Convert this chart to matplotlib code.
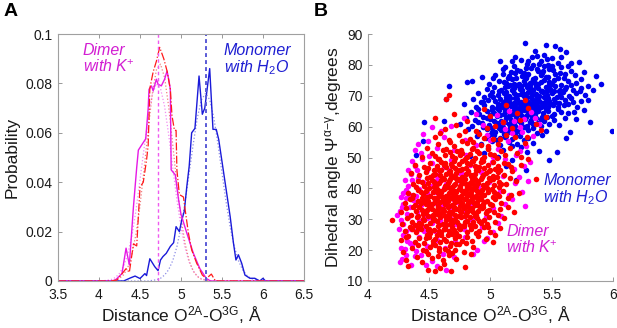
import matplotlib
matplotlib.use("Agg")
import matplotlib.pyplot as plt
import numpy as np

plt.rcParams['font.family'] = ['Liberation Sans', 'DejaVu Sans']
plt.rcParams['mathtext.fontset'] = 'custom'
plt.rcParams['mathtext.rm'] = 'Liberation Sans'
plt.rcParams['mathtext.it'] = 'Liberation Sans:italic'

# ---- panel A: distance histograms ----
dimer1_x = [3.5, 4.15, 4.20, 4.28, 4.33, 4.37, 4.42, 4.46, 4.48, 4.57, 4.60, 4.61, 4.64, 4.66,
            4.70, 4.72, 4.76, 4.80, 4.83, 4.85, 4.87, 4.88, 4.93, 4.97, 5.00, 5.07, 5.15,
            5.23, 5.31, 5.36, 6.5]
dimer1_p = [0, 0, 0.0004, 0.003, 0.0133, 0.0065, 0.030, 0.046, 0.053, 0.0576, 0.070, 0.0776,
            0.079, 0.077, 0.0817, 0.0797, 0.079, 0.0817, 0.085, 0.0817, 0.0776, 0.045, 0.043,
            0.033, 0.027, 0.0195, 0.0113, 0.005, 0.001, 0, 0]

dimer2_x = [3.5, 4.15, 4.22, 4.33, 4.37, 4.42, 4.46, 4.50, 4.54, 4.58, 4.60, 4.62, 4.66, 4.70,
            4.74, 4.79, 4.83, 4.87, 4.89, 4.92, 4.94, 4.95, 4.98, 5.03, 5.05, 5.09, 5.13, 5.19,
            5.26, 5.31, 5.37, 5.42, 6.5]
dimer2_p = [0, 0, 0.0004, 0.005, 0.0035, 0.015, 0.0142, 0.038, 0.040, 0.049, 0.055, 0.078,
            0.0846, 0.089, 0.0946, 0.090, 0.085, 0.0776, 0.067, 0.061, 0.061, 0.045, 0.035,
            0.034, 0.029, 0.0195, 0.0126, 0.0073, 0.0024, 0.001, 0.0028, 0, 0]

mono_x = [3.5, 4.25, 4.30, 4.38, 4.44, 4.50, 4.56, 4.58, 4.62, 4.68, 4.72, 4.75, 4.78, 4.82,
          4.87, 4.91, 4.94, 4.98, 5.01, 5.04, 5.07, 5.10, 5.13, 5.17, 5.22, 5.26, 5.29, 5.35,
          5.39, 5.43, 5.46, 5.60, 5.64, 5.67, 5.70, 5.74, 5.78, 5.84, 5.90, 5.96, 6.00, 6.03, 6.5]
mono_p = [0, 0, 0, 0.0012, 0.002, 0.001, 0.003, 0.0022, 0.009, 0.0058, 0.0042, 0.0085, 0.0099,
          0.0112, 0.014, 0.0155, 0.022, 0.020, 0.0248, 0.0282, 0.038, 0.0465, 0.060, 0.0618,
          0.083, 0.0675, 0.070, 0.086, 0.0614, 0.0614, 0.0573, 0.026, 0.0153, 0.0085, 0.0106,
          0.0072, 0.0024, 0.0011, 0.0011, 0, 0.0011, 0, 0]

# dotted fitted curves
fitA_x = [3.5, 4.0, 4.05, 4.1, 4.15, 4.2, 4.25, 4.3, 4.35, 4.4, 4.45, 4.5, 4.55, 4.6, 4.65, 4.7,
          4.75, 4.8, 4.85, 4.9, 4.95, 5.0, 5.05, 5.1, 5.15, 5.2, 5.25, 5.3, 5.35, 5.4, 6.5]
fit_dimer1 = [0, 0, 0.0001, 0.0003, 0.0006, 0.0014, 0.0031, 0.0060, 0.0108, 0.0181, 0.0283,
              0.0410, 0.0538, 0.0660, 0.0754, 0.0799, 0.0780, 0.0707, 0.0592, 0.0458, 0.0328,
              0.0218, 0.0134, 0.0076, 0.0040, 0.0019, 0.0009, 0.0004, 0.0001, 0, 0]
fit_dimer2 = [0, 0, 0, 0, 0.0001, 0.0004, 0.0011, 0.0025, 0.0054, 0.0105, 0.0188, 0.0305,
              0.0453, 0.0614, 0.0758, 0.0855, 0.0878, 0.0824, 0.0705, 0.0550, 0.0391, 0.0254,
              0.0151, 0.0081, 0.0040, 0.0018, 0.0007, 0.0003, 0.0001, 0, 0]
fitB_x = [3.5, 4.6, 4.7, 4.75, 4.8, 4.85, 4.9, 4.95, 5.0, 5.05, 5.1, 5.15, 5.2, 5.25, 5.3, 5.35,
          5.4, 5.45, 5.5, 5.55, 5.6, 5.65, 5.7, 5.75, 5.8, 5.85, 5.9, 5.95, 6.0, 6.1, 6.5]
fit_mono = [0, 0, 0.0005, 0.0011, 0.0024, 0.0046, 0.0083, 0.0139, 0.0218, 0.0320, 0.0437,
            0.0556, 0.0662, 0.0734, 0.0760, 0.0734, 0.0662, 0.0556, 0.0437, 0.0320, 0.0218,
            0.0139, 0.0083, 0.0046, 0.0024, 0.0011, 0.0005, 0.0002, 0.0001, 0, 0]

mean_dimer = 4.72
mean_mono = 5.30

# ---- panel B: distance vs dihedral angle ----
mono_pts = [
    (5.28, 87.2), (5.45, 86.3), (5.53, 86.1), (5.57, 85.2),
    (5.62, 84.3), (5.44, 83.1), (5.20, 82.4), (5.36, 84.6), (5.72, 80.9), (5.50, 82.2),
    (5.08, 81.2), (5.18, 81.4), (5.30, 80.3), (5.41, 81.1), (5.55, 80.6), (5.63, 79.8),
    (5.25, 81.7), (5.47, 80.1), (5.34, 82.5),
    (5.12, 79.4), (5.22, 78.2), (5.29, 79.1), (5.38, 78.6), (5.44, 79.5), (5.51, 78.3),
    (5.58, 79.2), (5.66, 78.1), (5.33, 78.9), (5.17, 77.8), (5.48, 78.8), (5.76, 77.6),
    (5.40, 80.2),
    (4.93, 76.1), (5.04, 76.8), (5.14, 75.9), (5.20, 77.3), (5.26, 76.4), (5.31, 77.1),
    (5.36, 75.8), (5.42, 77.4), (5.47, 76.2), (5.53, 76.9), (5.60, 75.7), (5.69, 76.6),
    (5.86, 76.4), (5.24, 77.9), (5.39, 78.0), (5.57, 77.5), (5.10, 77.0),
    (4.81, 74.6), (4.85, 74.7), (4.99, 73.8), (5.07, 74.9), (5.13, 74.2), (5.18, 75.3),
    (5.23, 73.9), (5.27, 74.8), (5.32, 74.1), (5.35, 75.4), (5.39, 73.7), (5.44, 75.0),
    (5.48, 74.3), (5.52, 75.2), (5.58, 73.6), (5.63, 74.7), (5.70, 74.0), (5.80, 73.3),
    (5.29, 75.9), (5.45, 76.0), (5.15, 76.3),
    (4.66, 73.3), (4.97, 72.2), (5.03, 72.9), (5.09, 71.8), (5.14, 73.1), (5.19, 72.4),
    (5.22, 73.4), (5.26, 71.9), (5.30, 72.8), (5.33, 72.1), (5.37, 73.2), (5.41, 71.7),
    (5.45, 72.9), (5.49, 72.3), (5.53, 73.0), (5.57, 71.9), (5.62, 72.7), (5.67, 72.0),
    (5.74, 72.6), (5.28, 73.7), (5.36, 74.0), (5.46, 71.6), (5.24, 72.5), (5.12, 72.7),
    (4.64, 69.0), (4.90, 70.8), (4.95, 69.7), (5.01, 71.2), (5.06, 70.3), (5.11, 70.9),
    (5.15, 69.8), (5.19, 71.0), (5.22, 70.1), (5.25, 70.7), (5.28, 69.6), (5.31, 71.3),
    (5.34, 70.2), (5.37, 70.6), (5.40, 69.9), (5.43, 71.1), (5.46, 70.4), (5.50, 70.8),
    (5.54, 69.7), (5.59, 71.2), (5.64, 70.0), (5.70, 70.9), (5.77, 70.2), (5.33, 71.6),
    (5.42, 71.7), (5.18, 71.8), (5.56, 71.5),
    (4.86, 68.8), (4.92, 67.9), (4.98, 68.6), (5.04, 68.2), (5.08, 69.1), (5.12, 68.3),
    (5.16, 69.2), (5.19, 67.8), (5.22, 68.9), (5.25, 68.1), (5.28, 68.7), (5.31, 67.9),
    (5.34, 68.8), (5.36, 68.2), (5.39, 69.3), (5.42, 67.7), (5.45, 68.9), (5.48, 68.4),
    (5.52, 69.0), (5.56, 67.8), (5.61, 68.6), (5.67, 68.1), (5.80, 68.7), (5.30, 69.7),
    (5.38, 69.5), (5.21, 69.6), (5.47, 69.4), (5.13, 69.5),
    (4.78, 67.2), (4.88, 66.3), (4.95, 67.1), (5.01, 66.4), (5.06, 67.3), (5.10, 66.2),
    (5.14, 67.0), (5.17, 66.6), (5.20, 67.4), (5.23, 66.1), (5.26, 66.9), (5.29, 66.5),
    (5.32, 67.2), (5.35, 66.3), (5.38, 67.1), (5.41, 66.4), (5.44, 67.3), (5.47, 66.2),
    (5.51, 66.9), (5.55, 66.5), (5.60, 67.0), (5.71, 66.4), (5.27, 67.6), (5.35, 67.8),
    (5.43, 67.7), (5.16, 67.5), (5.52, 67.6), (5.08, 66.9),
    (4.84, 64.8), (4.91, 64.1), (4.97, 65.2), (5.03, 64.3), (5.07, 65.4), (5.11, 64.0),
    (5.15, 64.9), (5.18, 64.2), (5.21, 65.1), (5.24, 64.4), (5.27, 65.3), (5.30, 63.9),
    (5.33, 64.7), (5.36, 64.2), (5.39, 65.0), (5.43, 64.5), (5.47, 65.2), (5.52, 64.1),
    (5.58, 64.9), (5.63, 64.3), (5.25, 65.8), (5.32, 65.7), (5.40, 65.9), (5.13, 65.6),
    (5.01, 65.5),
    (4.80, 62.8), (4.87, 62.2), (4.94, 63.1), (5.00, 62.4), (5.05, 63.3), (5.09, 61.9),
    (5.13, 62.7), (5.17, 62.1), (5.21, 63.2), (5.25, 62.3), (5.29, 63.0), (5.33, 62.0),
    (5.37, 62.9), (5.41, 62.4), (5.46, 63.1), (5.52, 62.2), (5.61, 62.7), (5.22, 63.8),
    (5.35, 63.6), (5.08, 63.7), (4.62, 61.8),
    (4.46, 61.4), (4.75, 60.9), (4.85, 60.2), (4.93, 61.1), (4.99, 60.4), (5.05, 61.3),
    (5.10, 59.9), (5.15, 60.8), (5.20, 60.3), (5.25, 61.2), (5.30, 60.1), (5.35, 60.9),
    (5.41, 60.3), (5.48, 61.0), (5.81, 61.4), (5.19, 61.6), (5.03, 61.7),
    (4.82, 59.2), (4.90, 58.3), (4.97, 59.1), (5.04, 58.4), (5.09, 58.9), (5.14, 58.1),
    (5.19, 59.3), (5.25, 58.2), (5.31, 58.8), (5.38, 58.0), (5.65, 58.3), (5.99, 58.7),
    (5.01, 59.6),
    (4.89, 57.1), (4.96, 56.2), (5.03, 57.3), (5.08, 56.4), (5.13, 57.0), (5.18, 56.1),
    (5.24, 56.9), (5.31, 56.3), (5.42, 57.2), (5.11, 57.7),
    (4.45, 55.5), (4.92, 54.3), (5.01, 55.2), (5.08, 54.1), (5.15, 55.0), (5.22, 54.4),
    (5.35, 54.8),
    (4.98, 53.1), (5.10, 52.4), (5.25, 53.3), (5.40, 52.0), (5.54, 51.7),
    (4.39, 50.7), (4.83, 50.6), (5.06, 50.2), (5.48, 49.3), (5.18, 49.1),
    (5.29, 46.1), (5.21, 42.8), (5.13, 47.2),
    (5.10, 78.6), (5.19, 79.7), (5.27, 77.4), (5.35, 79.9), (5.43, 77.9), (5.50, 79.6),
    (5.61, 77.2), (5.31, 81.3), (5.46, 81.8), (5.38, 83.0), (5.58, 82.6), (5.66, 80.7),
    (5.02, 75.6), (5.11, 74.4), (5.21, 75.7), (5.25, 73.1), (5.34, 74.6), (5.41, 76.7),
    (5.50, 73.7), (5.55, 75.9), (5.66, 73.4), (5.74, 75.5), (5.19, 73.8), (5.30, 76.6),
    (5.00, 70.4), (5.07, 71.6), (5.13, 71.3), (5.20, 69.3), (5.24, 72.1), (5.27, 70.5),
    (5.32, 73.5), (5.35, 71.9), (5.39, 72.5), (5.44, 69.5), (5.48, 73.6), (5.52, 71.4),
    (5.57, 70.3), (5.61, 72.2), (5.66, 69.4), (5.73, 71.6), (5.16, 73.6), (5.41, 74.5),
    (4.94, 68.1), (5.02, 69.5), (5.10, 67.6), (5.14, 68.6), (5.18, 66.9), (5.23, 67.7),
    (5.27, 69.9), (5.30, 67.3), (5.33, 69.6), (5.37, 67.5), (5.40, 68.3), (5.44, 66.8),
    (5.49, 67.3), (5.53, 68.1), (5.58, 69.7), (5.63, 67.4), (5.74, 68.4), (5.06, 66.1),
    (5.46, 68.0),
    (4.90, 65.6), (5.00, 63.8), (5.05, 66.0), (5.12, 65.2), (5.16, 63.7), (5.20, 66.3),
    (5.23, 64.9), (5.26, 63.6), (5.29, 66.0), (5.31, 65.2), (5.34, 63.4), (5.38, 66.2),
    (5.42, 63.2), (5.45, 65.7), (5.50, 63.6), (5.55, 65.8), (5.68, 64.9), (5.19, 65.5),
    (5.36, 65.4),
    (4.90, 61.4), (4.97, 62.8), (5.07, 60.7), (5.12, 61.5), (5.18, 60.6), (5.23, 61.9),
    (5.27, 60.0), (5.32, 61.6), (5.39, 61.3), (5.44, 61.9), (5.56, 60.6), (5.15, 63.3),
    (5.28, 62.6),
    (4.94, 59.9), (5.01, 58.3), (5.07, 59.6), (5.16, 59.7), (5.22, 58.6), (5.28, 59.9),
    (5.35, 59.4), (5.45, 58.7), (5.12, 56.8), (5.20, 57.4), (5.27, 55.6), (5.05, 55.8),
    (4.99, 57.4), (5.18, 53.6), (5.30, 51.8), (4.95, 51.6), (5.62, 56.4), (5.70, 62.4),
    (5.76, 65.3), (5.84, 71.9), (5.90, 73.9),
]

dimerK_a_pts = [
    (4.26, 16.0), (4.28, 17.2), (4.35, 15.3), (4.43, 18.4), (4.52, 16.5), (4.61, 18.9),
    (4.70, 17.8), (4.64, 13.7),
    (4.30, 20.3), (4.34, 22.4), (4.39, 19.6), (4.42, 24.1), (4.48, 21.3), (4.56, 23.2),
    (4.63, 20.8), (4.71, 22.9), (4.79, 24.4), (4.89, 20.2), (4.97, 24.0), (4.29, 24.8),
    (4.36, 21.5),
    (4.25, 27.0), (4.27, 29.8), (4.31, 26.3), (4.33, 30.7), (4.37, 28.1), (4.40, 26.5),
    (4.42, 29.4), (4.45, 27.4), (4.48, 30.3), (4.52, 28.7), (4.55, 26.1), (4.59, 29.6),
    (4.63, 27.3), (4.67, 30.4), (4.72, 28.6), (4.78, 26.7), (4.85, 29.9), (4.93, 27.5),
    (5.06, 28.9), (4.29, 28.5), (4.35, 27.0), (4.50, 25.5), (4.96, 30.6),
    (4.26, 32.6), (4.29, 35.1), (4.32, 31.8), (4.34, 33.9), (4.37, 36.2), (4.40, 32.3),
    (4.43, 34.7), (4.46, 31.4), (4.48, 36.9), (4.51, 33.5), (4.54, 35.3), (4.57, 32.1),
    (4.61, 34.4), (4.65, 36.5), (4.69, 33.1), (4.73, 35.6), (4.78, 32.8), (4.84, 34.8),
    (4.91, 36.4), (5.02, 33.7), (5.12, 35.0), (5.28, 34.3), (4.31, 36.8), (4.39, 35.0),
    (4.29, 38.5), (4.33, 40.8), (4.36, 42.6), (4.39, 37.6), (4.42, 39.9), (4.45, 42.0),
    (4.48, 38.4), (4.52, 40.9), (4.56, 42.8), (4.60, 38.9), (4.64, 41.3), (4.69, 39.8),
    (4.75, 42.3), (4.82, 38.1), (4.90, 40.6), (4.99, 42.0), (5.08, 39.3), (5.20, 41.7),
    (5.31, 42.5), (4.34, 38.0), (5.15, 37.8),
    (4.35, 44.6), (4.38, 47.3), (4.41, 43.4), (4.44, 49.4), (4.48, 45.8), (4.52, 48.1),
    (4.57, 44.2), (4.62, 46.9), (4.68, 49.2), (4.75, 44.9), (4.83, 47.6), (4.92, 45.3),
    (5.01, 48.5), (5.10, 44.0), (5.19, 46.4), (5.27, 47.1), (5.23, 43.8), (4.50, 50.5),
    (4.40, 46.0),
    (4.43, 51.6), (4.49, 55.2), (4.56, 53.1), (4.62, 56.7), (4.70, 52.3), (4.79, 55.8),
    (4.88, 53.9), (4.97, 57.3), (5.06, 52.7), (5.14, 55.4), (5.21, 50.9), (5.29, 53.6),
    (5.35, 56.9), (5.02, 50.2),
    (4.60, 58.6), (4.78, 62.9), (4.94, 60.4), (5.05, 63.7), (5.12, 59.2), (5.19, 61.8),
    (5.26, 58.3), (5.33, 64.6), (5.40, 60.7), (5.15, 65.0), (5.27, 62.5), (4.88, 64.1),
    (4.62, 40.1), (4.70, 36.2), (4.77, 44.7), (4.55, 38.8), (4.66, 31.7), (4.80, 29.4),
    (4.59, 42.3), (4.73, 24.6),
    (4.24, 31.4), (4.28, 34.0), (4.27, 37.2), (4.31, 39.5), (4.30, 42.8), (4.33, 45.9),
    (4.36, 49.0), (4.38, 52.4), (4.41, 54.3), (4.45, 57.5), (4.52, 59.8), (4.68, 60.2),
    (4.32, 22.9), (4.27, 20.7), (4.38, 18.0), (4.31, 18.5), (4.47, 15.1), (4.56, 14.8),
    (5.05, 45.8), (5.12, 49.6), (5.24, 52.1), (5.32, 48.5), (5.18, 58.0), (5.24, 60.0),
    (5.36, 62.9), (5.10, 61.5), (5.00, 55.6), (4.95, 23.0), (5.02, 26.0), (4.86, 18.8),
    (5.09, 31.0), (5.18, 36.6), (5.26, 38.7), (4.58, 35.6), (4.51, 30.6), (4.46, 26.1),
    (4.56, 44.1), (4.66, 45.9), (4.80, 50.9),
]

dimerK_b_pts = [
    (4.49, 13.6), (4.55, 13.1), (4.59, 14.3), (4.68, 13.4), (4.79, 14.4), (4.33, 15.0),
    (4.62, 15.6),
    (4.31, 16.8), (4.40, 17.9), (4.52, 17.6), (4.57, 18.0), (4.61, 16.9), (4.66, 18.4),
    (4.72, 17.2), (4.49, 18.6), (4.84, 18.9), (4.44, 16.3),
    (4.29, 19.4), (4.36, 20.7), (4.41, 21.5), (4.47, 19.8), (4.51, 20.9), (4.55, 21.8),
    (4.58, 19.6), (4.63, 20.4), (4.67, 21.3), (4.71, 20.0), (4.74, 21.9), (4.78, 19.3),
    (4.86, 21.1), (4.53, 22.0), (4.45, 20.2), (4.69, 19.1),
    (4.27, 23.4), (4.33, 24.6), (4.38, 22.5), (4.42, 23.9), (4.46, 22.2), (4.50, 24.3),
    (4.53, 23.0), (4.56, 24.8), (4.59, 22.6), (4.62, 23.7), (4.65, 24.9), (4.68, 22.4),
    (4.71, 23.8), (4.74, 24.5), (4.77, 22.9), (4.81, 24.2), (4.85, 23.1), (4.90, 24.7),
    (4.96, 23.5), (5.04, 24.8), (4.48, 25.0), (4.60, 25.0), (4.72, 22.1), (5.02, 22.6),
    (4.30, 26.1), (4.34, 27.5), (4.39, 25.8), (4.43, 26.9), (4.47, 27.8), (4.51, 25.4),
    (4.54, 26.6), (4.57, 27.9), (4.60, 25.9), (4.63, 27.0), (4.66, 26.2), (4.69, 27.6),
    (4.72, 25.6), (4.75, 26.8), (4.78, 27.7), (4.81, 25.9), (4.84, 26.9), (4.87, 27.9),
    (4.91, 26.3), (4.95, 27.4), (5.00, 26.0), (5.08, 27.2), (4.36, 26.9), (4.49, 26.5),
    (4.58, 26.3), (4.70, 26.4), (4.83, 28.0), (4.64, 28.0), (4.41, 27.2), (4.31, 24.4),
    (4.20, 29.7), (4.28, 28.6), (4.32, 30.4), (4.36, 29.1), (4.40, 30.8), (4.43, 28.4),
    (4.46, 29.6), (4.49, 30.9), (4.51, 28.9), (4.54, 30.2), (4.56, 29.3), (4.59, 30.7),
    (4.61, 28.5), (4.64, 29.8), (4.66, 30.9), (4.69, 28.8), (4.71, 30.1), (4.73, 29.2),
    (4.76, 30.6), (4.78, 28.3), (4.81, 29.5), (4.83, 30.8), (4.86, 29.0), (4.89, 30.3),
    (4.92, 28.7), (4.95, 29.9), (4.99, 30.6), (5.04, 29.2), (5.11, 30.5), (4.38, 28.2),
    (4.52, 31.0), (4.63, 31.0), (4.74, 28.1), (4.87, 31.0), (4.45, 30.1), (4.68, 29.9),
    (4.27, 32.4), (4.31, 33.6), (4.35, 31.5), (4.39, 32.8), (4.42, 33.9), (4.45, 31.7),
    (4.48, 32.9), (4.50, 33.8), (4.53, 31.4), (4.55, 32.6), (4.58, 33.7), (4.60, 31.9),
    (4.62, 32.8), (4.65, 33.9), (4.67, 31.6), (4.69, 32.5), (4.72, 33.4), (4.74, 31.2),
    (4.76, 32.3), (4.78, 33.6), (4.80, 31.8), (4.83, 32.9), (4.85, 33.8), (4.88, 31.5),
    (4.90, 32.7), (4.93, 33.6), (4.96, 31.9), (4.99, 33.0), (5.03, 32.2), (5.08, 33.4),
    (5.19, 32.4), (4.57, 34.0), (4.70, 34.0), (4.82, 34.0), (4.44, 33.1), (4.64, 31.1),
    (4.79, 31.0), (4.94, 34.0), (4.37, 34.0), (4.52, 33.2),
    (4.30, 35.2), (4.34, 36.5), (4.38, 34.6), (4.41, 35.9), (4.44, 36.8), (4.47, 34.8),
    (4.49, 36.0), (4.52, 35.1), (4.54, 36.9), (4.57, 34.4), (4.59, 35.7), (4.61, 36.6),
    (4.63, 34.9), (4.65, 35.8), (4.67, 36.9), (4.69, 34.5), (4.71, 35.5), (4.73, 36.4),
    (4.75, 34.3), (4.77, 35.4), (4.79, 36.7), (4.81, 34.7), (4.83, 35.9), (4.85, 36.8),
    (4.87, 34.6), (4.89, 35.6), (4.92, 36.5), (4.94, 34.9), (4.97, 36.0), (5.00, 35.1),
    (5.04, 36.4), (5.09, 35.3), (5.14, 36.8), (4.56, 37.0), (4.68, 37.0), (4.80, 37.0),
    (4.91, 37.0), (4.46, 35.9), (4.62, 35.9), (4.74, 35.9), (4.86, 35.7), (4.36, 37.0),
    (4.33, 38.6), (4.37, 37.8), (4.41, 39.4), (4.45, 38.1), (4.48, 39.7), (4.51, 37.6),
    (4.53, 38.9), (4.56, 39.8), (4.58, 37.9), (4.60, 38.8), (4.62, 39.9), (4.64, 37.5),
    (4.66, 38.6), (4.68, 39.5), (4.70, 37.7), (4.72, 38.7), (4.74, 39.7), (4.76, 37.4),
    (4.78, 38.5), (4.80, 39.6), (4.82, 37.9), (4.84, 38.9), (4.86, 39.8), (4.88, 37.6),
    (4.90, 38.7), (4.93, 39.6), (4.95, 37.8), (4.98, 38.9), (5.01, 39.9), (5.05, 38.3),
    (5.10, 39.2), (5.17, 38.0), (4.50, 40.0), (4.63, 40.0), (4.75, 40.0), (4.87, 40.0),
    (4.97, 40.0), (4.43, 38.9), (4.57, 38.5), (4.69, 38.4), (4.81, 38.3), (4.92, 38.2),
    (4.37, 41.3), (4.41, 42.5), (4.46, 40.7), (4.49, 41.9), (4.52, 42.8), (4.55, 40.5),
    (4.58, 41.6), (4.60, 42.7), (4.63, 40.8), (4.65, 41.8), (4.67, 42.9), (4.69, 40.4),
    (4.71, 41.5), (4.73, 42.6), (4.75, 40.9), (4.77, 41.9), (4.79, 42.9), (4.81, 40.6),
    (4.83, 41.7), (4.85, 42.8), (4.88, 40.8), (4.90, 41.9), (4.92, 42.9), (4.95, 40.5),
    (4.97, 41.6), (5.00, 42.7), (5.03, 41.0), (5.07, 42.2), (5.13, 41.3), (5.21, 42.4),
    (5.37, 43.1), (4.62, 43.0), (4.74, 43.0), (4.87, 43.0), (4.56, 41.4), (4.86, 41.4),
    (4.44, 42.2), (5.02, 43.0),
    (4.42, 44.2), (4.47, 45.4), (4.51, 43.7), (4.55, 44.8), (4.58, 45.9), (4.61, 43.5),
    (4.64, 44.6), (4.67, 45.7), (4.70, 43.8), (4.72, 44.9), (4.75, 45.8), (4.77, 43.6),
    (4.80, 44.7), (4.82, 45.6), (4.85, 43.9), (4.87, 44.8), (4.90, 45.9), (4.93, 43.7),
    (4.96, 44.9), (4.99, 45.7), (5.02, 44.1), (5.06, 45.3), (5.11, 44.4), (5.18, 45.5),
    (4.35, 45.0), (4.60, 46.0), (4.73, 46.0), (4.88, 46.0), (5.00, 46.0), (4.68, 44.3),
    (4.84, 44.3), (4.53, 44.4),
    (4.38, 47.5), (4.46, 46.8), (4.51, 48.2), (4.56, 47.1), (4.60, 48.6), (4.64, 46.9),
    (4.68, 48.0), (4.71, 46.6), (4.74, 47.8), (4.77, 48.9), (4.80, 46.7), (4.83, 47.9),
    (4.86, 48.8), (4.89, 47.0), (4.92, 48.4), (4.95, 46.5), (4.98, 47.7), (5.02, 48.7),
    (5.06, 47.2), (5.11, 48.3), (5.17, 46.9), (5.25, 47.6), (4.70, 49.0), (4.85, 49.0),
    (4.62, 47.5),
    (4.44, 50.2), (4.52, 51.3), (4.58, 49.6), (4.63, 50.8), (4.67, 51.9), (4.71, 49.8),
    (4.75, 50.9), (4.79, 49.4), (4.83, 51.0), (4.87, 49.9), (4.91, 51.6), (4.95, 50.3),
    (5.00, 51.2), (5.05, 49.7), (5.12, 50.8), (5.22, 51.4), (4.73, 52.0), (4.89, 52.0),
    (4.48, 53.0), (4.57, 54.3), (4.64, 52.6), (4.70, 53.8), (4.76, 52.4), (4.81, 54.6),
    (4.86, 53.2), (4.92, 54.1), (4.98, 52.9), (5.06, 54.4), (5.16, 53.1), (5.28, 54.7),
    (4.55, 56.8), (4.66, 55.6), (4.74, 57.4), (4.83, 56.0), (4.91, 57.7), (5.02, 55.9),
    (5.13, 57.2), (5.30, 56.5),
    (4.63, 59.3), (4.72, 60.6), (4.88, 58.7), (5.04, 60.2), (5.18, 59.5), (5.41, 58.9),
    (4.55, 62.9), (4.81, 61.8), (5.00, 63.4), (5.24, 62.2),
    (4.66, 70.2), (4.64, 68.8), (4.95, 65.6), (5.13, 66.9),
    (5.31, 66.1), (5.22, 64.5), (5.45, 63.2), (5.37, 60.8), (5.28, 68.7),
    (4.47, 24.0), (4.55, 23.6), (4.64, 22.9), (4.69, 25.2), (4.80, 22.4), (4.88, 25.4),
    (4.58, 20.8), (4.65, 19.6),
    (4.42, 28.9), (4.50, 27.0), (4.53, 29.7), (4.58, 28.1), (4.62, 26.8), (4.67, 28.6),
    (4.74, 27.2), (4.79, 29.0), (4.85, 28.3), (4.91, 29.5), (4.97, 28.4), (4.56, 31.8),
    (4.41, 31.2), (4.47, 32.4), (4.51, 34.6), (4.56, 33.0), (4.61, 33.3), (4.66, 32.2),
    (4.70, 33.8), (4.75, 32.8), (4.81, 32.4), (4.86, 32.5), (4.91, 34.2), (4.97, 32.6),
    (5.01, 34.5), (4.71, 31.4),
    (4.43, 35.4), (4.48, 37.3), (4.55, 35.6), (4.60, 37.4), (4.64, 36.2), (4.70, 36.7),
    (4.76, 36.9), (4.82, 35.3), (4.88, 37.3), (4.95, 35.6), (5.02, 37.2), (5.07, 37.5),
    (4.66, 34.3), (4.78, 34.1),
    (4.39, 40.3), (4.47, 39.0), (4.54, 40.5), (4.59, 39.3), (4.65, 40.4), (4.71, 39.1),
    (4.77, 39.2), (4.83, 40.2), (4.89, 39.1), (4.94, 41.2), (5.03, 38.9), (5.07, 40.6),
    (4.61, 37.2), (4.73, 37.3), (4.85, 37.4),
    (4.48, 43.3), (4.54, 42.1), (4.59, 44.3), (4.66, 42.4), (4.70, 41.0), (4.76, 42.3),
    (4.80, 41.3), (4.84, 44.0), (4.89, 42.4), (4.94, 44.2), (4.99, 43.4), (5.05, 43.6),
    (5.09, 41.5), (4.72, 43.4),
    (4.49, 46.6), (4.54, 45.9), (4.63, 48.2), (4.66, 45.4), (4.69, 47.2), (4.77, 46.4),
    (4.81, 48.3), (4.87, 47.4), (4.91, 47.0), (4.94, 48.9), (5.04, 46.2), (5.08, 45.8),
    (5.14, 47.8), (4.57, 49.5),
    (4.55, 50.5), (4.61, 52.5), (4.69, 50.4), (4.77, 51.6), (4.81, 50.2), (4.85, 52.6),
    (4.93, 49.6), (4.98, 53.6), (5.03, 50.7), (5.09, 52.1), (4.67, 54.9), (4.77, 55.4),
    (4.86, 55.1), (4.95, 56.4), (5.08, 56.0), (4.59, 58.0), (4.79, 58.6), (4.97, 59.7),
    (5.10, 61.5), (4.70, 64.0), (5.20, 56.6), (5.25, 50.3), (5.31, 49.4), (5.16, 43.2),
    (5.23, 38.6), (5.14, 33.9), (5.06, 31.4), (4.98, 27.6),
]

C_MAG = '#e619e6'
C_RED = '#ff1a1a'
C_BLUE = '#1a1ad9'
TXT = '#1a1a1a'

fig = plt.figure(figsize=(6.17, 3.28), dpi=100)

# ---------------- panel A ----------------
axA = fig.add_axes([0.094, 0.1433, 0.3987, 0.753])
axA.plot(fitA_x, fit_dimer1, ':', color='#f28cf2', lw=0.9)
axA.plot(fitA_x, fit_dimer2, ':', color='#f08080', lw=0.9)
axA.plot(fitB_x, fit_mono, ':', color='#8c8ce6', lw=0.9)
axA.plot(mono_x, mono_p, '-', color=C_BLUE, lw=1.0)
axA.plot(dimer1_x, dimer1_p, '-', color=C_MAG, lw=1.0)
axA.plot(dimer2_x, dimer2_p, '-.', color=C_RED, lw=0.9)
axA.plot([mean_dimer, mean_dimer], [0, 0.1], '--', color='#f05af0', lw=1.0, dashes=(2.5, 2))
axA.plot([mean_mono, mean_mono], [0, 0.1], '--', color='#5a5ad6', lw=1.4, dashes=(2, 1.6))

axA.set_xlim(3.5, 6.5)
axA.set_ylim(0, 0.1)
axA.set_xticks([3.5, 4, 4.5, 5, 5.5, 6, 6.5])
axA.set_xticklabels(['3.5', '4', '4.5', '5', '5.5', '6', '6.5'])
axA.set_yticks([0, 0.02, 0.04, 0.06, 0.08, 0.1])
axA.set_yticklabels(['0', '0.02', '0.04', '0.06', '0.08', '0.1'])
axA.tick_params(direction='in', length=3, width=0.6, color='#888888', labelsize=10,
                labelcolor=TXT, top=True, right=True)
axA.tick_params(axis='x', pad=5)
axA.tick_params(axis='y', pad=4)
for sp in axA.spines.values():
    sp.set_color('#a0a0a0')
    sp.set_linewidth(0.8)
axA.set_ylabel('Probability', fontsize=12.5, color=TXT, labelpad=4)
axA.set_xlabel('Distance O$^{\\mathregular{2A}}$-O$^{\\mathregular{3G}}$, Å', fontsize=12.5,
               color=TXT, labelpad=2)
axA.text(3.80, 0.0965, 'Dimer\nwith K$^{+}$', color='#d21ed2', fontsize=11.5,
         style='italic', va='top', ha='left', linespacing=1.05)
axA.text(5.52, 0.0965, 'Monomer\nwith H$_{\\mathit{2}}$O', color='#1e1ed2', fontsize=11.5,
         style='italic', va='top', ha='left', linespacing=1.05)

# ---------------- panel B ----------------
axB = fig.add_axes([0.5964, 0.1433, 0.397, 0.753])
mp = np.array(mono_pts)
ka = np.array(dimerK_a_pts)
kb = np.array(dimerK_b_pts)
axB.scatter(mp[:, 0], mp[:, 1], s=16, color='#0000ee', linewidths=0)
axB.scatter(ka[:, 0], ka[:, 1], s=16, color='#ff00ff', linewidths=0)
axB.scatter(kb[:, 0], kb[:, 1], s=16, color='#ff0000', linewidths=0)
axB.set_xlim(4, 6)
axB.set_ylim(10, 90)
axB.set_xticks([4, 4.5, 5, 5.5, 6])
axB.set_xticklabels(['4', '4.5', '5', '5.5', '6'])
axB.set_yticks(range(10, 91, 10))
axB.spines['top'].set_visible(False)
axB.spines['right'].set_visible(False)
for sp in ('left', 'bottom'):
    axB.spines[sp].set_color('#a0a0a0')
    axB.spines[sp].set_linewidth(0.8)
axB.tick_params(direction='in', length=3, width=0.6, color='#888888', labelsize=10,
                labelcolor=TXT)
axB.tick_params(axis='x', pad=5)
axB.tick_params(axis='y', pad=4)
axB.set_ylabel('Dihedral angle Ψ$^{\\mathregular{α{-}γ}}$,degrees', fontsize=12.5, color=TXT,
               labelpad=2)
axB.set_xlabel('Distance O$^{\\mathregular{2A}}$-O$^{\\mathregular{3G}}$, Å', fontsize=12.5,
               color=TXT, labelpad=2)
axB.text(5.43, 45.0, 'Monomer\nwith H$_{\\mathit{2}}$O', color='#1e1ed2', fontsize=11.5,
         style='italic', va='top', ha='left', linespacing=1.05)
axB.text(5.13, 28.5, 'Dimer\nwith K$^{+}$', color='#d21ed2', fontsize=11.5,
         style='italic', va='top', ha='left', linespacing=1.05)

fig.text(0.005, 0.99, 'A', fontsize=14, fontweight='bold', va='top', ha='left')
fig.text(0.508, 0.99, 'B', fontsize=14, fontweight='bold', va='top', ha='left')

fig.savefig('out.png', dpi=100)
